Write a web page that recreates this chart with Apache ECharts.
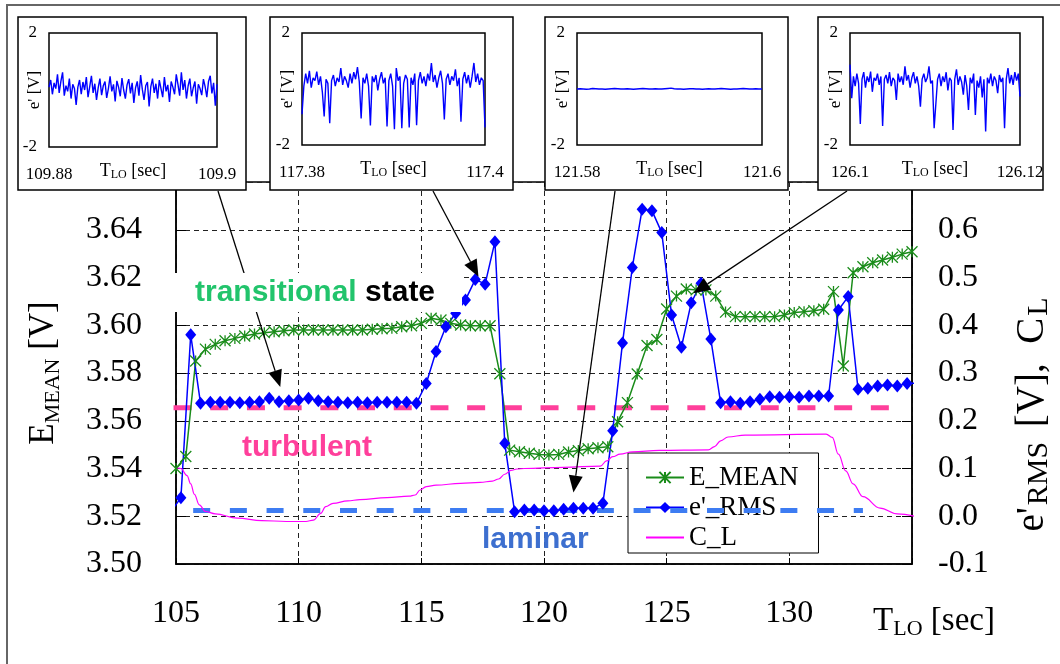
<!DOCTYPE html>
<html>
<head>
<meta charset="utf-8">
<script src="https://cdn.jsdelivr.net/npm/echarts@6/dist/echarts.min.js"></script>
<style>
html,body{margin:0;padding:0;background:#fff;}
#chart{width:1060px;height:664px;}
</style>
</head>
<body>
<div id="chart"></div>
<script>
// ---- main traces -------------------------------------------------------
// mean hot-wire voltage E_MEAN [V] (left axis)
const eMeanTime = [104.6,105.0,105.4,105.8,106.2,106.6,107.0,107.4,107.8,108.2,108.6,109.0,109.4,109.8,110.2,110.6,111.0,111.4,111.8,112.2,112.6,113.0,113.4,113.8,114.2,114.6,115.0,115.4,115.8,116.2,116.6,117.0,117.4,117.8,118.2,118.6,119.0,119.4,119.8,120.2,120.6,121.0,121.4,121.8,122.2,122.6,123.0,123.4,123.8,124.2,124.6,125.0,125.4,125.8,126.2,126.6,127.0,127.4,127.8,128.2,128.6,129.0,129.4,129.8,130.2,130.6,131.0,131.4,131.8,132.2,132.6,133.0,133.4,133.8,134.2,134.6,135.0];
const eMeanValue = [3.531,3.540,3.545,3.585,3.590,3.592,3.5935,3.5945,3.5955,3.5963,3.5969,3.5973,3.5977,3.598,3.598,3.598,3.598,3.598,3.598,3.598,3.598,3.5983,3.5985,3.5987,3.5994,3.5998,3.6008,3.6029,3.6022,3.6008,3.6001,3.5998,3.5998,3.5998,3.5797,3.5477,3.5470,3.5464,3.5459,3.5457,3.5459,3.5469,3.5475,3.5483,3.5487,3.5491,3.5596,3.5676,3.5796,3.5915,3.5940,3.6068,3.6122,3.6152,3.6148,3.6148,3.6122,3.6055,3.6036,3.6036,3.6036,3.6036,3.6036,3.6043,3.6053,3.6057,3.6061,3.6067,3.6141,3.5829,3.6220,3.6245,3.6262,3.6273,3.6285,3.6298,3.6308];

// RMS of the voltage fluctuation e'_RMS [V] (right axis)
const eRmsTime = [104.8,105.2,105.6,106.0,106.4,106.8,107.2,107.6,108.0,108.4,108.8,109.2,109.6,110.0,110.4,110.8,111.2,111.6,112.0,112.4,112.8,113.2,113.6,114.0,114.4,114.8,115.2,115.6,116.0,116.4,116.8,117.2,117.6,118.0,118.4,118.8,119.2,119.6,120.0,120.4,120.8,121.2,121.6,122.0,122.4,122.8,123.2,123.6,124.0,124.4,124.8,125.2,125.6,126.0,126.4,126.8,127.2,127.6,128.0,128.4,128.8,129.2,129.6,130.0,130.4,130.8,131.2,131.6,132.0,132.4,132.8,133.2,133.6,134.0,134.4,134.8,135.2];
const eRmsValue = [0.010,0.039,0.380,0.2365,0.2386,0.2386,0.2386,0.2379,0.2386,0.2400,0.2469,0.2400,0.2421,0.2435,0.2469,0.2421,0.2400,0.2386,0.2379,0.2386,0.2379,0.2386,0.2386,0.2386,0.2386,0.2365,0.278,0.345,0.397,0.425,0.453,0.496,0.486,0.575,0.153,0.0096,0.0131,0.0131,0.0117,0.0117,0.0145,0.0166,0.0166,0.0166,0.0271,0.179,0.363,0.521,0.643,0.640,0.594,0.4215,0.354,0.447,0.488,0.371,0.2375,0.2400,0.2365,0.2400,0.2449,0.2504,0.2491,0.2504,0.2491,0.2518,0.2518,0.2518,0.432,0.460,0.266,0.268,0.273,0.275,0.273,0.278,0.279];

// C_L (right axis)
const clTime = [104.8,105.2,105.45,105.6,105.75,105.95,106.2,106.6,107.5,108.5,109.5,110.3,110.6,110.9,111.1,111.4,112.0,112.5,113.6,114.5,114.75,114.95,115.2,115.6,116.6,117.4,117.9,118.15,118.4,118.65,118.9,119.2,120.8,122.3,122.55,122.8,123.1,123.6,124.7,126.7,126.95,127.2,127.5,128.2,131.5,131.75,132.0,132.3,132.6,133.0,133.7,134.4,135.2];
const clValue = [0.104,0.100,0.085,0.068,0.046,0.024,0.010,0.005,-0.004,-0.009,-0.011,-0.011,-0.008,0.006,0.020,0.027,0.032,0.035,0.039,0.042,0.0445,0.055,0.062,0.065,0.069,0.071,0.0735,0.078,0.088,0.096,0.099,0.100,0.1025,0.105,0.116,0.1247,0.130,0.135,0.138,0.139,0.146,0.158,0.166,0.170,0.172,0.165,0.130,0.095,0.068,0.041,0.017,0.005,-0.001];

// reference levels (right axis) and their time spans
const turbulentLevel = 0.227;
const turbulentSpan = [104.9, 134.7];
const laminarLevel = 0.012;
const laminarSpan = [105.7, 133.0];

// axis ticks
const xTickMin = 105, xTickMax = 135, xTickStep = 5;
const eMeanMin = 3.50, eMeanMax = 3.66, eMeanStep = 0.02;
const rmsMin = -0.1, rmsMax = 0.7, rmsStep = 0.1;

// ---- short-record insets: e' [V] over 0.02 s ---------------------------
const insetRanges = [['109.88','109.9'],['117.38','117.4'],['121.58','121.6'],['126.1','126.12']];
const inset1Trace = [0.10,0.35,-0.15,0.25,0.05,0.55,-0.10,0.30,0.62,-0.20,0.15,-0.05,0.40,-0.30,0.20,0.05,-0.52,0.10,0.35,-0.15,0.28,0.00,0.45,-0.25,0.12,0.50,-0.10,0.22,-0.35,0.08,0.40,-0.18,0.15,0.30,-0.28,0.05,0.48,-0.05,0.20,-0.40,0.32,0.10,-0.22,0.42,0.00,-0.30,0.18,0.38,-0.12,0.25,-0.45,0.08,0.30,-0.20,0.52,0.02,-0.35,0.15,0.28,-0.58,0.12,0.40,-0.10,0.22,-0.30,0.35,0.05,-0.25,0.45,-0.05,0.18,-0.42,0.30,0.10,-0.15,0.55,0.20,-0.20,0.62,0.00,0.35,-0.30,0.15,0.40,-0.22,0.08,0.30,-0.48,0.20,0.05,-0.18,0.38,0.12,-0.25,0.30,0.50,-0.12,0.25,-0.55,0.20];
const inset2Trace = [-0.90,0.10,0.55,0.20,0.65,0.05,0.40,0.30,0.62,0.15,0.45,-0.10,-0.98,0.35,0.20,-1.22,0.30,0.50,0.10,0.40,0.25,0.75,0.15,0.45,0.30,0.05,0.55,0.20,0.60,0.35,0.78,0.25,-1.05,0.40,0.20,0.55,0.10,-1.30,0.45,0.25,0.50,-0.05,0.35,0.60,0.20,0.40,-1.34,0.30,0.55,0.10,-1.44,0.75,0.30,0.45,-1.40,0.20,0.50,0.35,-1.37,0.40,0.15,0.55,-1.29,0.30,0.60,0.20,0.45,0.10,0.55,0.30,0.93,0.25,0.50,0.05,0.40,0.65,0.20,-1.09,0.35,0.55,0.15,0.45,0.30,0.70,0.10,0.40,-1.17,0.35,0.60,0.20,0.50,0.05,0.45,0.93,0.25,0.55,0.15,0.40,0.30,-1.37];
const inset3Trace = [0.00,0.01,0.00,-0.01,0.00,0.02,0.01,0.00,0.00,-0.01,0.00,0.01,0.02,0.01,0.00,0.00,0.01,0.00,-0.01,0.00,0.01,0.02,0.01,0.00,0.00,0.01,0.00,0.00,0.01,0.02,0.03,0.01,0.00,0.00,-0.01,0.00,0.01,0.01,0.00,0.00,-0.01,0.00,0.01,0.00,0.00,0.01,0.02,0.01,0.00,-0.01,0.00,0.00,0.01,0.02,0.01,0.00,0.00,0.01,0.00,0.00];
const inset4Trace = [0.87,-0.33,0.45,0.10,0.55,0.20,-1.25,0.35,0.60,0.05,0.45,0.25,0.62,-0.10,0.40,0.30,0.55,0.15,0.45,-1.32,0.35,0.50,0.20,0.60,0.10,0.40,0.30,-0.39,0.55,0.25,0.45,0.15,0.81,0.30,0.50,0.05,0.40,0.60,0.20,0.45,0.10,-0.63,0.35,0.55,0.25,0.40,0.81,0.20,0.30,-1.40,-1.43,0.35,0.55,0.10,0.45,0.25,0.60,-0.05,0.40,0.30,-1.46,0.35,0.70,0.15,0.45,0.25,-0.20,0.50,0.10,-0.75,0.40,0.20,0.55,-0.93,0.30,0.05,0.45,-0.30,0.35,-1.52,0.40,0.20,0.55,0.10,0.45,0.30,-0.15,0.50,0.25,0.40,-1.40,0.35,0.75,0.20,0.50,0.15,0.60,0.30,0.55,-0.27];
const insetTraces = [inset1Trace, inset2Trace, inset3Trace, inset4Trace];

// points (time, E_MEAN) that each inset arrow points at
const arrowTargets = [[109.25, 3.5741], [117.33, 3.6203], [121.2, 3.5299], [126.09, 3.6134]];

// ---- layout ------------------------------------------------------------
const SERIF = "'Liberation Serif','Times New Roman',serif";
const SANS = "'Liberation Sans',Arial,sans-serif";
const GREEN = '#1a8c1a', BLUE = '#0000ff', MAGENTA = '#ff00ff';
const insetBoxes = [
  {outer:[18,17,228,173],  inner:[49,33,168,114]},
  {outer:[270,17,243,173], inner:[302,33,183,112]},
  {outer:[545,17,243,173], inner:[577,33,185,112]},
  {outer:[818,17,225,173], inner:[850,33,170,112]}
];
const arrowStarts = [[218,191],[433,191],[615,191],[847,191]];

const zip = (xs, ys) => xs.map((x, i) => [x, ys[i]]);
const starPath = 'path://M0,0L10,10M10,0L0,10M5,0L5,10';

const chart = echarts.init(document.getElementById('chart'), null, {renderer: 'canvas'});

const grids = [{left:176, top:182, width:736, height:382, show:true, borderColor:'#000', borderWidth:1.5, backgroundColor:'#fff', containLabel:false, outerBoundsMode:'none'}];
const xAxes = [{
  gridIndex:0, type:'value', min:xTickMin, max:xTickMax, interval:xTickStep,
  axisLine:{show:true, onZero:false, lineStyle:{color:'#000', width:1.5}},
  axisTick:{show:true, inside:true, length:6, lineStyle:{color:'#000'}},
  axisLabel:{margin:34, fontFamily:SERIF, fontSize:32, color:'#000',
    formatter: v => (v === xTickMax ? '' : String(v))},
  splitLine:{show:true, lineStyle:{color:'#222', width:1, type:[5,4]}}
}];
const yAxes = [{
  gridIndex:0, type:'value', position:'left', min:eMeanMin, max:eMeanMax, interval:eMeanStep,
  axisLine:{show:true, onZero:false, lineStyle:{color:'#000', width:1.5}},
  axisTick:{show:true, inside:true, length:10, lineStyle:{color:'#000'}},
  axisLabel:{margin:34, fontFamily:SERIF, fontSize:32, color:'#000', formatter: v => v.toFixed(2)},
  splitLine:{show:true, lineStyle:{color:'#222', width:1, type:[5,4]}},
  name:'{b|E}{s|MEAN}{b| [V]}', nameLocation:'middle', nameGap:112, nameMoveOverlap:false,
  nameTextStyle:{rich:{
    b:{fontFamily:SERIF, fontSize:35, lineHeight:40, color:'#000'},
    s:{fontFamily:SERIF, fontSize:22, lineHeight:22, verticalAlign:'bottom', color:'#000'}
  }}
}, {
  gridIndex:0, type:'value', position:'right', min:rmsMin, max:rmsMax, interval:rmsStep,
  axisLine:{show:true, onZero:false, lineStyle:{color:'#000', width:1.5}},
  axisTick:{show:true, inside:true, length:10, lineStyle:{color:'#000'}},
  axisLabel:{margin:26, fontFamily:SERIF, fontSize:32, color:'#000',
    formatter: v => (Math.abs(v) < 1e-9 ? '0.0' : v.toFixed(1))},
  splitLine:{show:false}
}];

const series = [
  {name:'E_MEAN', type:'line', xAxisIndex:0, yAxisIndex:0, data:zip(eMeanTime, eMeanValue),
   symbol:starPath, symbolSize:11, showAllSymbol:true, clip:true, z:5,
   lineStyle:{color:GREEN, width:1.5},
   itemStyle:{color:GREEN, borderColor:GREEN, borderWidth:1.3}},
  {name:"e'_RMS", type:'line', xAxisIndex:0, yAxisIndex:1, data:zip(eRmsTime, eRmsValue),
   symbol:'diamond', symbolSize:[11,13], showAllSymbol:true, clip:true, z:5,
   lineStyle:{color:BLUE, width:1.5}, itemStyle:{color:BLUE}},
  {name:'C_L', type:'line', xAxisIndex:0, yAxisIndex:1, data:zip(clTime, clValue),
   symbol:'none', smooth:0.4, smoothMonotone:'x', clip:true, z:5,
   lineStyle:{color:MAGENTA, width:1.2}, itemStyle:{color:MAGENTA}},
  {name:'turbulent', type:'line', xAxisIndex:0, yAxisIndex:1, silent:true, z:4,
   data:[[turbulentSpan[0], turbulentLevel],[turbulentSpan[1], turbulentLevel]],
   symbol:'none', lineStyle:{color:'#ff3f9b', width:5, type:[18,18.7], cap:'butt'}},
  {name:'laminar', type:'line', xAxisIndex:0, yAxisIndex:1, silent:true, z:4,
   data:[[laminarSpan[0], laminarLevel],[laminarSpan[1], laminarLevel]],
   symbol:'none', lineStyle:{color:'#3d7cf2', width:5, type:[17,19.7], cap:'butt'}}
];

// insets: one small grid each, drawn above the main plot
insetBoxes.forEach((box, i) => {
  const trace = insetTraces[i];
  const [l, t, w, h] = box.inner;
  grids.push({left:l, top:t, width:w, height:h, show:true, borderColor:'#000', borderWidth:1.5,
              backgroundColor:'transparent', containLabel:false, outerBoundsMode:'none', z:11});
  xAxes.push({
    gridIndex:i+1, type:'category', boundaryGap:false, z:12,
    data: trace.map((_, k) => String(k)),
    axisLine:{show:false}, axisTick:{show:false}, splitLine:{show:false},
    axisLabel:{show:true, margin:19, fontFamily:SERIF, fontSize:17, color:'#000',
      interval:(k) => k === 0 || k === trace.length - 1,
      formatter:(v, k) => (k === 0 ? insetRanges[i][0] : insetRanges[i][1])},
    name:'{b|T}{s|LO}{b| [sec]}', nameLocation:'middle', nameGap:14, nameMoveOverlap:false,
    nameTextStyle:{rich:{
      b:{fontFamily:SERIF, fontSize:18, lineHeight:20, color:'#000'},
      s:{fontFamily:SERIF, fontSize:12, lineHeight:12, verticalAlign:'bottom', color:'#000'}
    }}
  });
  yAxes.push({
    gridIndex:i+1, type:'value', min:-2, max:2, interval:2, z:12,
    axisLine:{show:false}, axisTick:{show:false}, splitLine:{show:false},
    axisLabel:{margin:12, fontFamily:SERIF, fontSize:17, color:'#000',
      formatter: v => (v === 0 ? '' : String(v))},
    name:"e' [V]", nameLocation:'middle', nameGap:6, nameMoveOverlap:false,
    nameTextStyle:{fontFamily:SERIF, fontSize:17, color:'#000'}
  });
  series.push({type:'line', xAxisIndex:i+1, yAxisIndex:i+2, data:trace, symbol:'none',
               silent:true, z:12, lineStyle:{color:BLUE, width:1.4}});
});

const option = {
  animation:false,
  backgroundColor:'#fff',
  grid:grids, xAxis:xAxes, yAxis:yAxes, series:series,
  legend:{
    data:[{name:'E_MEAN'}, {name:"e'_RMS"}, {name:'C_L', itemStyle:{opacity:0}}],
    orient:'vertical', left:628, top:453, z:3,
    itemWidth:38, itemHeight:14, itemGap:3, padding:[11,20,2,17],
    backgroundColor:'#fff', borderColor:'#000', borderWidth:1, borderRadius:0,
    selectedMode:false,
    textStyle:{fontFamily:SERIF, fontSize:27, color:'#000'}
  }
};
chart.setOption(option);

// annotations: captions, inset frames and arrows
const elements = [];
elements.push({type:'rect', z:30, silent:true, shape:{x:7, y:5, width:1070, height:680},
  style:{fill:'none', stroke:'#666', lineWidth:2}});
insetBoxes.forEach(box => {
  const [x, y, w, h] = box.outer;
  elements.push({type:'rect', z:10, silent:true, shape:{x, y, width:w, height:h},
    style:{fill:'#fff', stroke:'#000', lineWidth:1.5}});
});
// arrows from each inset to its instant on the curves
arrowTargets.forEach((tg, i) => {
  const [tx, ty] = chart.convertToPixel({xAxisIndex:0, yAxisIndex:0}, tg);
  const [sx, sy] = arrowStarts[i];
  const dx = tx - sx, dy = ty - sy, len = Math.hypot(dx, dy);
  const ux = dx / len, uy = dy / len, L = 17, W = 7;
  const bx = tx - ux * L, by = ty - uy * L;
  elements.push({type:'line', z:6, silent:true, shape:{x1:sx, y1:sy, x2:bx, y2:by},
    style:{stroke:'#000', lineWidth:1.3}});
  elements.push({type:'polygon', z:6, silent:true,
    shape:{points:[[tx,ty],[bx - uy*W, by + ux*W],[bx + uy*W, by - ux*W]]},
    style:{fill:'#000'}});
});
// caption box for the transitional state
elements.push({type:'rect', z:7, silent:true, shape:{x:168, y:273, width:294, height:39}, style:{fill:'#fff'}});
elements.push({type:'text', z:8, silent:true, x:195, y:293, style:{
  text:'{g|transitional} {k|state}', verticalAlign:'middle', align:'left',
  fontFamily:SANS, fontSize:30, fontWeight:'bold',
  rich:{g:{fill:'#22c46c', fontFamily:SANS, fontSize:30, fontWeight:'bold'},
        k:{fill:'#000', fontFamily:SANS, fontSize:30, fontWeight:'bold'}}}});
elements.push({type:'text', z:8, silent:true, x:242, y:448, style:{
  text:'turbulent', fill:'#ff3f9b', fontFamily:SANS, fontSize:30, fontWeight:'bold',
  verticalAlign:'middle', align:'left'}});
elements.push({type:'text', z:8, silent:true, x:482, y:540, style:{
  text:'laminar', fill:'#3d6fcf', fontFamily:SANS, fontSize:30, fontWeight:'bold',
  verticalAlign:'middle', align:'left'}});
// right axis title and time axis title
elements.push({type:'text', z:8, silent:true, x:1033, y:412, rotation:Math.PI/2, style:{
  text:"{b|e'}{s|RMS}{b| [V],  C}{s|L}", align:'center', verticalAlign:'middle',
  rich:{b:{fontFamily:SERIF, fontSize:39, lineHeight:42, fill:'#000'},
        s:{fontFamily:SERIF, fontSize:30, lineHeight:30, verticalAlign:'bottom', fill:'#000', padding:[0,5,0,2]}}}});
elements.push({type:'text', z:8, silent:true, x:934, y:621, style:{
  text:'{b|T}{s|LO}{b| [sec]}', align:'center', verticalAlign:'middle',
  rich:{b:{fontFamily:SERIF, fontSize:33, lineHeight:38, fill:'#000'},
        s:{fontFamily:SERIF, fontSize:22, lineHeight:22, verticalAlign:'bottom', fill:'#000'}}}});

chart.setOption({graphic:{elements}});
</script>
</body>
</html>
